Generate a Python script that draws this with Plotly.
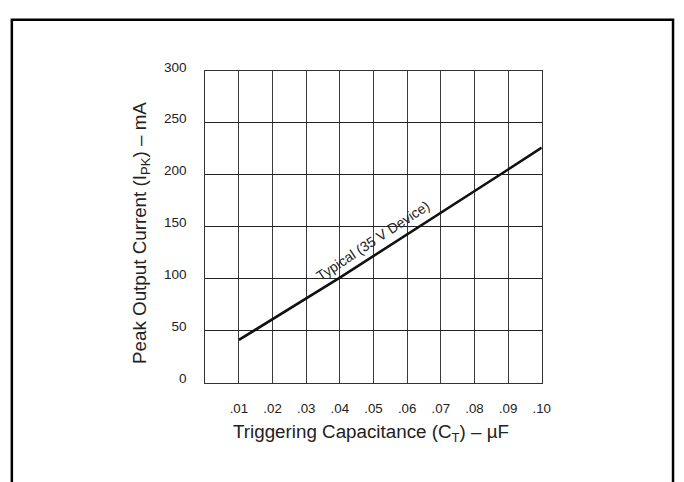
import plotly.graph_objects as go

# Data
cap_uF = [0.01, 0.04, 0.09, 0.10]
peak_mA = [41, 101, 205, 226]
x_tickvals = [0.01, 0.02, 0.03, 0.04, 0.05, 0.06, 0.07, 0.08, 0.09, 0.10]
x_ticktext = [".01", ".02", ".03", ".04", ".05", ".06", ".07", ".08", ".09", ".10"]
y_tickvals = [0, 50, 100, 150, 200, 250, 300]
curve_label = "Typical (35 V Device)"
label_pos = (0.0497, 136)

W, H = 684, 482
FONT = "Liberation Sans, Arial, Helvetica, sans-serif"

def px(x):
    return x / W

def py(y):
    return 1 - y / H

fig = go.Figure()
fig.add_trace(go.Scatter(
    x=cap_uF, y=peak_mA, mode="lines",
    line=dict(color="#111111", width=2.6),
    showlegend=False, hoverinfo="skip",
))

fig.update_layout(
    width=W, height=H,
    margin=dict(l=0, r=0, t=0, b=0),
    paper_bgcolor="white", plot_bgcolor="white",
    font=dict(family=FONT, color="#222222", size=13),
    xaxis=dict(
        domain=[px(208), px(549)],
        range=[0, 0.10],
        tickvals=x_tickvals, ticktext=x_ticktext,
        showgrid=True, gridcolor="#3a3a3a", gridwidth=1,
        zeroline=False,
        showline=True, linecolor="#333333", linewidth=1, mirror=True,
        ticks="", ticklabelstandoff=13,
        tickfont=dict(size=13.3, color="#222222"),
        fixedrange=True,
    ),
    yaxis=dict(
        domain=[py(383.5), py(61.7)],
        range=[0, 300],
        tickvals=y_tickvals,
        showgrid=True, gridcolor="#222222", gridwidth=1,
        zeroline=False,
        showline=True, linecolor="#333333", linewidth=1, mirror=True,
        ticks="", ticklabelstandoff=15, ticklabelshift=-4,
        tickfont=dict(size=13.5, color="#222222"),
        fixedrange=True,
    ),
    annotations=[
        dict(text="Triggering Capacitance (C<sub>T</sub>) – µF",
             xref="paper", yref="paper", x=px(375.5), y=py(436),
             xanchor="center", yanchor="middle", showarrow=False,
             font=dict(size=18.8, color="#222222", family=FONT)),
        dict(text="Peak Output Current (I<sub>PK</sub>) – mA",
             xref="paper", yref="paper", x=px(143), y=py(229),
             xanchor="center", yanchor="middle", showarrow=False, textangle=-90,
             font=dict(size=18.8, color="#222222", family=FONT)),
        dict(text=curve_label,
             xref="x", yref="y", x=label_pos[0], y=label_pos[1],
             xanchor="center", yanchor="middle", showarrow=False, textangle=-33.5,
             font=dict(size=14, color="#222222", family=FONT)),
    ],
    shapes=[
        dict(type="rect", xref="paper", yref="paper",
             x0=px(12), x1=px(682), y0=-0.1, y1=py(9),
             line=dict(color="black", width=2.5), fillcolor="rgba(0,0,0,0)"),
    ],
)

fig.write_html(
    "out.html",
    config={"displayModeBar": False},
    post_script="document.body.style.margin='0';document.body.style.overflow='hidden';",
)
